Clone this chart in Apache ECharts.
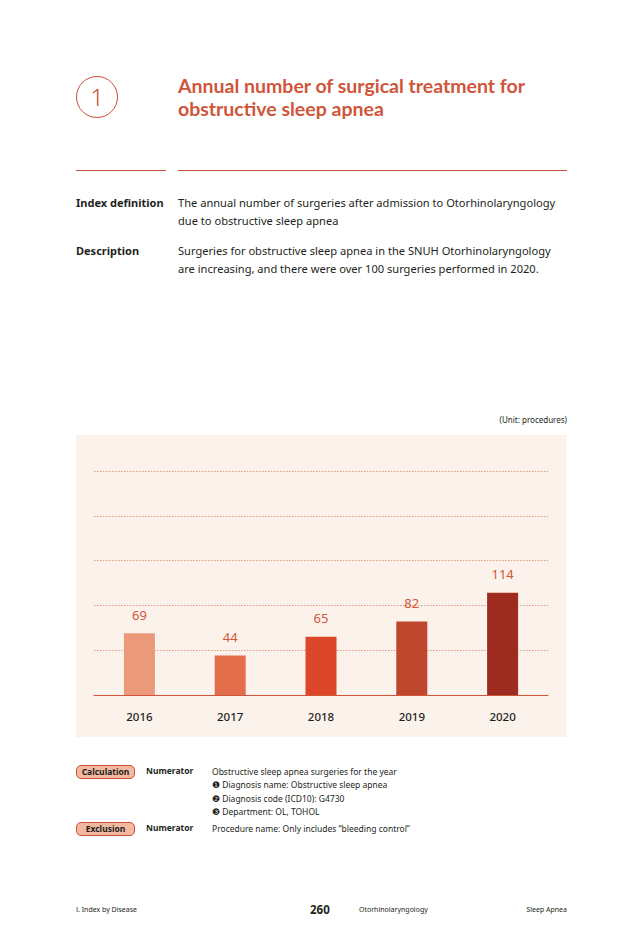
<!DOCTYPE html>
<html><head><meta charset="utf-8">
<script src="https://cdn.jsdelivr.net/npm/echarts@6/dist/echarts.min.js"></script>
<style>
html,body{margin:0;padding:0;background:#fff;}
body{width:643px;height:945px;position:relative;font-family:"Noto Sans","Open Sans",sans-serif;color:#231f20;overflow:hidden;}
.a{position:absolute;white-space:nowrap;}
.circle{left:76px;top:76px;width:42px;height:42px;border:1px solid #c9503a;border-radius:50%;box-sizing:border-box;text-align:center;line-height:40px;font-size:24px;color:#c9503a;font-weight:300;}
.title{left:178px;font-family:Lato,"Noto Sans",sans-serif;font-size:19.5px;font-weight:700;color:#d0553a;line-height:20px;}
.rule{height:1px;background:#c9503a;top:170px;}
.lbl{font-size:11px;font-weight:700;}
.txt{font-size:11.1px;line-height:18px;}
.unit{right:76px;top:414px;font-size:8px;}
#chart{position:absolute;left:76px;top:435px;width:491px;height:302px;background:#fcf2ec;}
.badge{left:76px;width:59px;height:14px;box-sizing:border-box;border:1px solid #c9503a;border-radius:5px;background:#f2b8a0;font-size:8.5px;font-weight:700;text-align:center;line-height:12px;}
.num{left:146px;font-size:8.5px;font-weight:700;}
.ct{left:212px;font-size:8.5px;line-height:13.3px;}
.ft{top:905px;font-size:7px;}
</style></head>
<body>
<div class="a circle">1</div>
<div class="a title" style="top:76px;">Annual number of surgical treatment for</div>
<div class="a title" style="top:99px;">obstructive sleep apnea</div>
<div class="a rule" style="left:76px;width:90px;"></div>
<div class="a rule" style="left:178px;width:389px;"></div>
<div class="a lbl" style="left:76px;top:195px;">Index definition</div>
<div class="a txt" style="left:178px;top:194px;">The annual number of surgeries after admission to Otorhinolaryngology<br>due to obstructive sleep apnea</div>
<div class="a lbl" style="left:76px;top:243px;">Description</div>
<div class="a txt" style="left:178px;top:242px;">Surgeries for obstructive sleep apnea in the SNUH Otorhinolaryngology<br>are increasing, and there were over 100 surgeries performed in 2020.</div>
<div class="a unit">(Unit: procedures)</div>
<div id="chart"></div>
<div class="a badge" style="top:765px;">Calculation</div>
<div class="a num" style="top:765px;">Numerator</div>
<div class="a ct" style="top:765px;">Obstructive sleep apnea surgeries for the year<br>❶ Diagnosis name: Obstructive sleep apnea<br>❷ Diagnosis code (ICD10): G4730<br>❸ Department: OL, TOHOL</div>
<div class="a badge" style="top:822px;">Exclusion</div>
<div class="a num" style="top:822px;">Numerator</div>
<div class="a ct" style="top:822px;">Procedure name: Only includes “bleeding control”</div>
<div class="a ft" style="left:76px;">Ⅰ. Index by Disease</div>
<div class="a" style="left:310px;top:902px;font-size:11.5px;font-weight:700;">260</div>
<div class="a ft" style="left:359px;">Otorhinolaryngology</div>
<div class="a ft" style="right:76px;">Sleep Apnea</div>
<script>
const years = ['2016','2017','2018','2019','2020'];
const surgeries = [69, 44, 65, 82, 114];
const barColors = ['#ea997b','#e26e4c','#dc4729','#bf472d','#9e2b1f'];
const yTicks = {min:0, max:250, interval:50};

const chart = echarts.init(document.getElementById('chart'), null, {renderer:'svg'});
chart.setOption({
  animation:false,
  grid:{left:18,right:19,top:36,bottom:42},
  xAxis:{type:'category',data:years,
    axisLine:{lineStyle:{color:'#d0553a',width:1}},
    axisTick:{show:false},
    axisLabel:{color:'#231f20',fontSize:11.5,fontWeight:500,margin:15,fontFamily:'Noto Sans'}},
  yAxis:{type:'value',min:yTicks.min,max:yTicks.max,interval:yTicks.interval,
    axisLabel:{show:false},axisLine:{show:false},axisTick:{show:false},
    splitLine:{lineStyle:{color:'#d9805f',type:[1.5,1.5],width:0.8}}},
  series:[{type:'bar',barWidth:31,
    data:surgeries.map((v,i)=>({value:v,itemStyle:{color:barColors[i]}})),
    label:{show:true,position:'top',distance:12,color:'#d4553a',fontSize:13,fontFamily:'Noto Sans'}}]
});
</script>
</body></html>
